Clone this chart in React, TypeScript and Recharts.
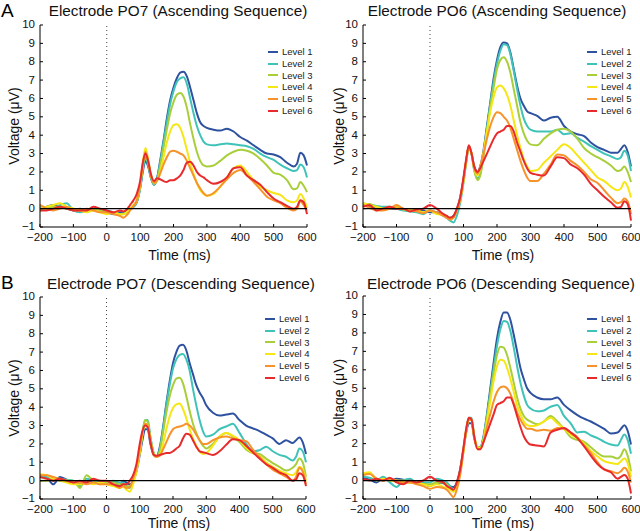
import React from 'react';
import { LineChart, Line, XAxis, YAxis, ReferenceLine } from 'recharts';

// sample times (ms); denser around the early peak
const TIMES = [
  -200, -180, -160, -140, -120, -100, -80, -60, -40, -20, 0, 20, 40,
  50, 60, 70, 80, 90, 100,
  108, 116, 124, 132, 142,
  150, 160, 170, 180, 190, 200, 210, 220, 230, 240, 250, 260, 270, 280, 290, 300,
  320, 340, 360, 380, 400, 420, 440, 460, 480, 500, 520, 540, 560,
  570, 580, 590, 600,
];

const LEVELS = ['Level 1', 'Level 2', 'Level 3', 'Level 4', 'Level 5', 'Level 6'];
const COLORS = ['#2f52a0', '#3fc3b8', '#a8cf3a', '#f5e614', '#f7932a', '#e92a2c'];
const X_TICKS = [-200, -100, 0, 100, 200, 300, 400, 500, 600];
const Y_TICKS = [-1, 0, 1, 2, 3, 4, 5, 6, 7, 8, 9, 10];

// Electrode PO7, ascending sequence (levels 1..6)
const PO7_ASC = [
  [0.0, 0.1, 0.2, 0.1, 0.0, -0.1, 0.0, -0.1, 0.0, -0.1, -0.2, -0.3, -0.2, -0.2, -0.15, -0.05, 0.1, 0.35, 1.1, 2.0, 2.6, 2.3, 1.7, 1.3, 1.6, 2.6, 3.7, 4.9, 5.9, 6.6, 7.1, 7.4, 7.45, 7.2, 6.6, 5.9, 5.2, 4.7, 4.5, 4.4, 4.3, 4.25, 4.35, 4.2, 3.9, 3.7, 3.45, 3.2, 3.0, 2.95, 2.8, 2.5, 2.3, 2.45, 3.05, 2.9, 2.35],
  [0.1, 0.0, 0.0, 0.2, 0.3, -0.1, -0.2, -0.1, 0.0, -0.1, -0.1, -0.2, -0.3, -0.25, -0.2, -0.05, 0.1, 0.35, 1.1, 2.1, 2.8, 2.4, 1.7, 1.3, 1.6, 2.5, 3.6, 4.7, 5.7, 6.4, 6.9, 7.1, 7.15, 6.8, 6.0, 5.2, 4.5, 4.0, 3.65, 3.5, 3.45, 3.5, 3.55, 3.5, 3.45, 3.4, 3.25, 3.0, 2.8, 2.65, 2.4, 2.2, 2.05, 2.1, 2.4, 2.25, 1.7],
  [-0.1, 0.0, 0.1, 0.1, 0.0, 0.0, -0.1, -0.1, 0.0, -0.1, -0.2, -0.2, -0.3, -0.3, -0.2, -0.05, 0.15, 0.4, 1.2, 2.3, 3.0, 2.5, 1.8, 1.35, 1.5, 2.3, 3.3, 4.3, 5.2, 5.8, 6.2, 6.3, 6.1, 5.5, 4.6, 3.8, 3.1, 2.6, 2.35, 2.3, 2.35, 2.6, 2.9, 3.1, 3.2, 3.15, 3.0, 2.7, 2.35, 1.95, 1.85, 1.55, 1.05, 1.1, 1.45, 1.25, 0.9],
  [0.0, 0.1, 0.2, 0.3, 0.1, 0.0, -0.1, -0.2, -0.1, -0.2, -0.3, -0.2, -0.3, -0.3, -0.2, 0.0, 0.2, 0.45, 1.3, 2.5, 3.3, 2.7, 1.9, 1.4, 1.5, 2.0, 2.8, 3.6, 4.2, 4.55, 4.6, 4.4, 3.9, 3.2, 2.5, 1.9, 1.4, 1.0, 0.8, 0.7, 0.8, 1.2, 1.7, 2.2, 2.35, 2.0, 1.55, 1.2, 1.0, 0.85, 0.75, 0.45, 0.35, 0.45, 0.8, 0.55, 0.0],
  [0.2, 0.0, -0.1, 0.0, 0.1, -0.1, -0.1, 0.0, -0.1, -0.2, -0.2, -0.3, -0.4, -0.5, -0.35, -0.1, 0.15, 0.45, 1.3, 2.4, 3.1, 2.6, 1.8, 1.4, 1.5, 1.9, 2.4, 2.8, 3.1, 3.15, 3.1, 3.0, 2.9, 2.6, 2.2, 1.8, 1.4, 1.1, 0.85, 0.7, 0.85, 1.2, 1.6, 1.95, 2.1, 1.8, 1.45, 1.05, 0.65, 0.45, 0.3, 0.05, -0.1, 0.0, 0.4, 0.2, -0.1],
  [-0.1, -0.1, 0.0, 0.1, 0.0, -0.1, -0.1, -0.1, 0.1, 0.0, -0.1, -0.2, -0.1, -0.15, -0.05, 0.2, 0.45, 0.8, 1.5, 2.5, 3.0, 2.6, 1.9, 1.5, 1.65, 1.6, 1.5, 1.45, 1.55, 1.55, 1.65, 1.8, 2.1, 2.5, 2.55, 2.35, 2.0, 1.8, 1.7, 1.55, 1.35, 1.45, 1.7, 2.2, 2.25, 1.8, 1.55, 1.3, 0.9, 0.55, 0.35, 0.15, 0.0, 0.1, 0.45, 0.35, -0.3],
];

// Electrode PO6, ascending sequence
const PO6_ASC = [
  [0.2, 0.1, 0.0, 0.05, 0.0, 0.0, -0.05, -0.1, -0.05, -0.1, -0.2, -0.2, -0.35, -0.45, -0.5, -0.4, -0.05, 0.6, 1.6, 2.6, 3.4, 3.0, 2.3, 2.0, 2.3, 3.2, 4.5, 5.8, 7.1, 8.1, 8.8, 9.05, 9.0, 8.5, 7.6, 6.7, 6.0, 5.6, 5.3, 5.2, 5.05, 4.8, 4.95, 5.0, 4.5, 4.2, 4.05, 3.95, 3.6, 3.35, 3.2, 3.05, 3.05, 3.25, 3.45, 3.1, 2.3],
  [0.3, 0.2, 0.15, 0.1, 0.1, 0.0, -0.1, -0.15, -0.2, -0.3, -0.1, -0.2, -0.4, -0.5, -0.65, -0.75, -0.4, 0.3, 1.4, 2.5, 3.3, 3.0, 2.1, 1.65, 1.9, 3.0, 4.4, 5.7, 6.9, 7.9, 8.6, 8.95, 8.9, 8.4, 7.5, 6.5, 5.6, 4.9, 4.5, 4.3, 4.2, 4.2, 4.2, 4.3, 4.05, 4.1, 3.85, 3.65, 3.4, 3.2, 3.0, 2.85, 2.7, 2.8, 3.15, 2.9, 2.05],
  [0.25, 0.25, 0.1, 0.0, 0.0, 0.1, -0.05, -0.1, -0.1, -0.2, -0.1, -0.25, -0.3, -0.4, -0.5, -0.45, -0.1, 0.5, 1.5, 2.6, 3.4, 3.0, 2.1, 1.55, 1.8, 2.9, 4.2, 5.5, 6.6, 7.6, 8.1, 8.25, 8.0, 7.4, 6.5, 5.6, 4.7, 4.1, 3.7, 3.5, 3.45, 3.8, 4.1, 4.3, 4.35, 4.2, 3.8, 3.3, 3.0, 2.8, 2.6, 2.35, 2.05, 2.1, 2.3, 2.0, 1.45],
  [0.3, 0.2, 0.1, 0.0, 0.1, 0.05, 0.0, -0.1, -0.1, -0.2, -0.1, -0.3, -0.35, -0.45, -0.55, -0.45, -0.1, 0.5, 1.5, 2.6, 3.4, 3.0, 2.2, 1.8, 2.2, 3.1, 4.2, 5.3, 6.1, 6.6, 6.7, 6.55, 6.2, 5.6, 4.8, 4.0, 3.3, 2.7, 2.3, 2.05, 2.1, 2.5, 2.85, 3.2, 3.5, 3.3, 2.9, 2.5, 2.1, 1.7, 1.5, 1.2, 1.0, 1.1, 1.45, 1.2, 0.6],
  [0.2, 0.05, -0.1, -0.1, 0.0, 0.2, 0.0, -0.1, -0.15, -0.25, -0.1, -0.2, -0.4, -0.5, -0.6, -0.5, -0.1, 0.5, 1.6, 2.6, 3.4, 3.0, 2.2, 1.9, 2.3, 3.0, 3.8, 4.5, 5.0, 5.25, 5.2, 5.0, 4.8, 4.4, 3.8, 3.2, 2.6, 2.1, 1.7, 1.5, 1.5, 1.9, 2.4, 2.95, 2.9, 2.6, 2.35, 2.0, 1.6, 1.4, 1.0, 0.6, 0.3, 0.35, 0.55, 0.4, -0.3],
  [0.1, 0.2, -0.1, 0.0, 0.1, 0.0, 0.0, -0.15, -0.05, 0.0, 0.2, 0.0, -0.3, -0.4, -0.5, -0.4, 0.0, 0.6, 1.7, 2.7, 3.45, 3.0, 2.3, 2.0, 2.2, 2.6, 3.0, 3.4, 3.8, 4.1, 4.2, 4.3, 4.5, 4.5, 4.2, 3.6, 3.1, 2.6, 2.2, 1.95, 1.85, 1.8, 2.3, 2.8, 2.75, 2.4, 2.2, 1.85, 1.35, 1.0, 0.65, 0.35, 0.05, 0.1, 0.4, 0.25, -0.65],
];

// Electrode PO7, descending sequence
const PO7_DESC = [
  [0.2, 0.15, -0.2, 0.2, 0.05, -0.05, -0.2, -0.05, 0.0, 0.0, -0.1, -0.05, -0.25, 0.0, -0.1, -0.2, 0.0, 0.5, 1.4, 2.2, 2.8, 2.8, 2.0, 1.4, 1.3, 1.8, 2.9, 4.2, 5.4, 6.4, 7.0, 7.35, 7.4, 7.1, 6.4, 5.8, 5.2, 4.8, 4.5, 4.1, 3.7, 3.55, 3.6, 3.65, 3.3, 3.0, 2.85, 2.7, 2.5, 2.3, 2.0, 2.2, 2.05, 2.2, 2.35, 2.1, 1.45],
  [0.25, 0.2, 0.0, 0.1, 0.05, 0.0, -0.3, 0.1, 0.0, -0.1, -0.1, 0.0, -0.1, -0.1, -0.3, -0.4, 0.0, 0.6, 1.5, 2.5, 3.3, 3.3, 2.4, 1.5, 1.3, 1.7, 2.8, 4.1, 5.2, 6.1, 6.6, 6.85, 6.9, 6.6, 6.0, 5.0, 4.1, 3.3, 2.7, 2.4, 2.5, 2.8, 2.95, 3.1, 2.6, 2.0, 1.6, 1.65, 1.85, 1.6, 1.4, 1.3, 1.1, 1.3, 1.75, 1.6, 1.0],
  [0.0, 0.0, 0.1, 0.0, 0.0, 0.0, -0.4, 0.3, 0.0, -0.2, -0.1, -0.1, -0.2, -0.2, -0.3, -0.3, 0.0, 0.6, 1.6, 2.6, 3.3, 3.2, 2.3, 1.5, 1.3, 1.6, 2.6, 3.7, 4.6, 5.2, 5.55, 5.6, 5.3, 4.6, 3.8, 3.1, 2.6, 2.2, 1.9, 1.75, 2.0, 2.4, 2.6, 2.4, 2.1, 1.7, 1.5, 1.45, 1.2, 0.95, 0.75, 0.55, 0.7, 0.9, 1.2, 1.0, 0.2],
  [0.35, 0.3, 0.1, 0.0, -0.1, -0.2, -0.2, -0.1, -0.2, -0.1, -0.2, -0.3, -0.4, -0.3, -0.5, -0.6, -0.2, 0.5, 1.5, 2.5, 3.1, 3.0, 2.2, 1.4, 1.3, 1.4, 2.0, 2.8, 3.5, 3.95, 4.15, 4.2, 3.9, 3.4, 2.8, 2.3, 1.9, 1.6, 1.45, 1.5, 1.9, 2.4, 2.6, 2.45, 2.2, 1.8, 1.5, 1.35, 1.0, 0.75, 0.55, 0.4, 0.3, 0.45, 0.75, 0.6, 0.0],
  [0.3, 0.3, 0.2, 0.1, 0.0, -0.1, -0.1, -0.2, -0.1, -0.2, -0.2, -0.2, -0.4, -0.3, -0.4, -0.35, 0.1, 0.7, 1.7, 2.6, 3.1, 3.0, 2.2, 1.4, 1.3, 1.35, 1.7, 2.1, 2.5, 2.8, 2.9, 2.95, 3.0, 3.1, 3.0, 2.8, 2.5, 2.2, 2.0, 2.0, 2.2, 2.35, 2.4, 2.3, 2.2, 2.15, 1.7, 1.3, 0.9, 0.6, 0.4, 0.2, 0.0, 0.2, 0.7, 0.5, -0.2],
  [0.2, 0.1, 0.0, 0.1, 0.0, -0.1, 0.0, -0.1, 0.1, 0.0, 0.0, -0.2, -0.3, -0.2, -0.2, 0.0, 0.3, 0.9, 2.0, 2.7, 3.0, 2.9, 2.1, 1.4, 1.35, 1.4, 1.45, 1.5, 1.5, 1.6, 1.75, 1.9, 2.3, 2.55, 2.5, 2.2, 1.85, 1.6, 1.55, 1.5, 1.4, 1.6, 1.95, 2.25, 2.2, 1.9, 1.55, 1.2, 0.9, 0.7, 0.45, 0.3, 0.0, 0.05, 0.4, 0.3, -0.3],
];

// Electrode PO6, descending sequence
const PO6_DESC = [
  [0.15, 0.05, -0.1, 0.1, 0.0, 0.1, 0.05, -0.05, -0.1, -0.15, -0.3, -0.1, -0.15, -0.2, -0.3, -0.35, -0.1, 0.6, 1.7, 2.6, 3.1, 3.1, 2.3, 1.8, 1.8, 2.4, 3.6, 5.0, 6.4, 7.7, 8.6, 9.1, 9.1, 8.7, 7.9, 7.0, 6.1, 5.5, 5.0, 4.75, 4.5, 4.4, 4.4, 4.5, 4.1, 3.8, 3.55, 3.35, 3.2, 3.0, 2.8, 2.55, 2.6, 2.8, 3.0, 2.7, 1.95],
  [0.2, 0.15, 0.0, 0.2, -0.1, -0.35, 0.0, 0.1, -0.1, -0.1, -0.1, 0.1, 0.0, -0.1, -0.3, -0.5, -0.2, 0.5, 1.7, 2.7, 3.4, 3.4, 2.4, 1.8, 1.8, 2.4, 3.5, 4.8, 6.1, 7.3, 8.2, 8.65, 8.6, 8.1, 7.2, 6.2, 5.3, 4.6, 4.1, 3.9, 3.75, 3.8, 4.0, 4.1, 3.5, 3.1, 2.6, 2.65, 2.45, 2.3, 2.1, 1.95, 1.9, 2.2, 2.5, 2.2, 1.45],
  [0.3, 0.4, 0.1, 0.0, 0.1, 0.0, 0.0, -0.1, -0.1, -0.2, -0.2, -0.1, -0.1, -0.2, -0.4, -0.6, -0.2, 0.5, 1.7, 2.8, 3.4, 3.3, 2.4, 1.8, 1.8, 2.3, 3.4, 4.6, 5.8, 6.8, 7.25, 7.2, 6.8, 6.1, 5.3, 4.5, 3.9, 3.5, 3.3, 3.2, 3.05, 3.2, 3.5, 3.2, 2.8, 2.35, 2.2, 2.1, 1.8, 1.5, 1.3, 1.3, 1.2, 1.35, 1.7, 1.35, 0.5],
  [0.4, 0.45, 0.0, 0.1, 0.0, -0.05, -0.1, -0.1, -0.15, -0.2, -0.3, -0.2, -0.35, -0.4, -0.5, -0.6, -0.3, 0.4, 1.6, 2.7, 3.3, 3.3, 2.4, 1.8, 1.75, 2.2, 3.2, 4.3, 5.4, 6.2, 6.55, 6.5, 6.1, 5.5, 4.8, 4.1, 3.6, 3.2, 3.0, 2.95, 3.0, 3.2, 3.4, 3.1, 2.8, 2.5, 2.3, 2.0, 1.6, 1.3, 1.05, 0.95, 0.9, 1.05, 1.2, 0.95, 0.2],
  [0.3, 0.35, 0.1, 0.0, 0.1, 0.0, -0.1, -0.1, -0.2, -0.3, -0.45, -0.35, -0.4, -0.5, -0.7, -0.9, -0.5, 0.3, 1.6, 2.7, 3.3, 3.3, 2.3, 1.7, 1.7, 2.1, 2.9, 3.6, 4.3, 4.8, 5.05, 5.1, 5.0, 4.7, 4.2, 3.7, 3.3, 3.0, 2.8, 2.8, 2.7, 2.75, 2.7, 2.85, 2.8, 2.6, 2.35, 1.9, 1.5, 1.0, 0.6, 0.5, 0.4, 0.5, 0.7, 0.5, -0.1],
  [0.1, 0.0, 0.1, 0.0, 0.15, -0.1, -0.2, 0.0, -0.1, 0.0, 0.2, 0.0, -0.1, -0.3, -0.4, -0.5, -0.1, 0.6, 1.8, 2.8, 3.4, 3.3, 2.4, 1.7, 1.7, 2.1, 2.6, 3.1, 3.6, 4.1, 4.2, 4.3, 4.5, 4.5, 4.1, 3.5, 2.9, 2.4, 2.1, 1.95, 1.9, 1.85, 2.6, 2.75, 2.85, 2.6, 2.3, 1.85, 1.35, 0.9, 0.6, 0.45, 0.1, 0.2, 0.3, 0.1, -0.7],
];

const FONT = '"Liberation Sans", Arial, sans-serif';

const fmt = (v: number) => (v < 0 ? '\u2212' + Math.abs(v) : String(v));

// MATLAB-style inward ticks; axis position passed in so label placement is exact
function YTick({ y, payload, axisX }: any) {
  return (
    <g>
      <line x1={axisX} x2={axisX + 3} y1={y} y2={y} stroke="#000" strokeWidth={1} />
      <text x={axisX - 5} y={y} dy="0.3em" textAnchor="end" fontSize={11.5} fill="#111" fontFamily={FONT}>
        {fmt(payload.value)}
      </text>
    </g>
  );
}

function XTick({ x, payload, axisY }: any) {
  return (
    <g>
      <line x1={x} x2={x} y1={axisY} y2={axisY - 3} stroke="#000" strokeWidth={1} />
      <text x={x} y={axisY + 14} textAnchor="middle" fontSize={11.5} fill="#111" fontFamily={FONT}>
        {fmt(payload.value)}
      </text>
    </g>
  );
}

type PanelProps = {
  left: number;
  top: number;
  height: number;
  title: string;
  titleX: number;
  titleY: number;
  letter?: string;
  letterY?: number;
  series: number[][];
  margin: { top: number; right: number; bottom: number; left: number };
  yWidth: number;
  xHeight: number;
  yLabelX: number;
  xLabelOffset: number;
  legendX: number;
  legendY: number;
};

function Panel(p: PanelProps) {
  const rows = TIMES.map((t, i) => {
    const r: any = { t };
    p.series.forEach((s, k) => (r['l' + k] = s[i]));
    return r;
  });
  const axisY = p.height - p.margin.bottom - p.xHeight;
  const axisX = p.margin.left + p.yWidth;
  return (
    <div style={{ position: 'absolute', left: p.left, top: p.top, width: 320, height: p.height }}>
      {p.letter && (
        <div style={{ position: 'absolute', left: 1, top: p.letterY, fontSize: 19, lineHeight: '19px' }}>{p.letter}</div>
      )}
      <div
        style={{
          position: 'absolute',
          left: p.titleX,
          top: p.titleY,
          transform: 'translateX(-50%)',
          whiteSpace: 'nowrap',
          fontSize: 15.3,
          lineHeight: '16px',
          color: '#111',
        }}
      >
        {p.title}
      </div>
      <LineChart width={320} height={p.height} data={rows} margin={p.margin}>
        <XAxis
          dataKey="t"
          type="number"
          domain={[-200, 600]}
          ticks={X_TICKS}
          interval={0}
          height={p.xHeight}
          tickSize={0}
          tick={(props: any) => <XTick {...props} axisY={axisY} />}
          tickLine={false}
          axisLine={{ stroke: '#000', strokeWidth: 1 }}
          label={{ value: 'Time (ms)', position: 'insideBottom', offset: p.xLabelOffset, dx: 6, fontSize: 14, fill: '#111', fontFamily: FONT }}
        />
        <YAxis
          type="number"
          domain={[-1, 10]}
          ticks={Y_TICKS}
          interval={0}
          width={p.yWidth}
          tickSize={0}
          tick={(props: any) => <YTick {...props} axisX={axisX} />}
          tickLine={false}
          axisLine={{ stroke: '#000', strokeWidth: 1 }}
          label={{ value: 'Voltage (\u03bcV)', angle: -90, position: 'insideLeft', offset: p.yLabelX, fontSize: 14, fill: '#111', fontFamily: FONT, style: { textAnchor: 'middle' } }}
        />
        <ReferenceLine x={0} stroke="#444" strokeDasharray="1 3" strokeWidth={1} />
        {LEVELS.map((name, k) => (
          <Line
            key={name}
            name={name}
            dataKey={'l' + k}
            type="monotone"
            stroke={COLORS[k]}
            strokeWidth={2}
            dot={false}
            isAnimationActive={false}
          />
        ))}
        <ReferenceLine y={0} stroke="#000" strokeWidth={1.2} />
      </LineChart>
      <div style={{ position: 'absolute', left: p.legendX, top: p.legendY }}>
        {LEVELS.map((name, k) => (
          <div key={name} style={{ display: 'flex', alignItems: 'center', height: 11.8 }}>
            <span style={{ display: 'inline-block', width: 10, height: 2, background: COLORS[k], marginRight: 4 }} />
            <span style={{ fontSize: 9.5, lineHeight: '11.8px', color: '#222' }}>{name}</span>
          </div>
        ))}
      </div>
    </div>
  );
}

export default function App() {
  return (
    <div
      style={{
        position: 'absolute',
        left: 0,
        top: 0,
        width: 640,
        height: 531,
        background: '#fff',
        fontFamily: FONT,
        overflow: 'hidden',
      }}
    >
      <Panel
        left={0}
        top={0}
        height={265}
        title="Electrode PO7 (Ascending Sequence)"
        titleX={178}
        titleY={3}
        letter="A"
        letterY={1}
        series={PO7_ASC}
        margin={{ top: 25, right: 13, bottom: 0, left: 0 }}
        yWidth={40}
        xHeight={38}
        yLabelX={14}
        xLabelOffset={5}
        legendX={268}
        legendY={46}
      />
      <Panel
        left={320}
        top={0}
        height={265}
        title="Electrode PO6 (Ascending Sequence)"
        titleX={177}
        titleY={3}
        series={PO6_ASC}
        margin={{ top: 25, right: 9, bottom: 0, left: 0 }}
        yWidth={43}
        xHeight={38}
        yLabelX={19}
        xLabelOffset={5}
        legendX={267}
        legendY={46}
      />
      <Panel
        left={0}
        top={265}
        height={266}
        title="Electrode PO7 (Descending Sequence)"
        titleX={181}
        titleY={11}
        letter="B"
        letterY={8}
        series={PO7_DESC}
        margin={{ top: 32, right: 14, bottom: 0, left: 0 }}
        yWidth={40}
        xHeight={32}
        yLabelX={14}
        xLabelOffset={3}
        legendX={265}
        legendY={48}
      />
      <Panel
        left={320}
        top={265}
        height={266}
        title="Electrode PO6 (Descending Sequence)"
        titleX={181}
        titleY={11}
        series={PO6_DESC}
        margin={{ top: 31, right: 9, bottom: 0, left: 0 }}
        yWidth={43}
        xHeight={32}
        yLabelX={19}
        xLabelOffset={3}
        legendX={267}
        legendY={48}
      />
    </div>
  );
}
